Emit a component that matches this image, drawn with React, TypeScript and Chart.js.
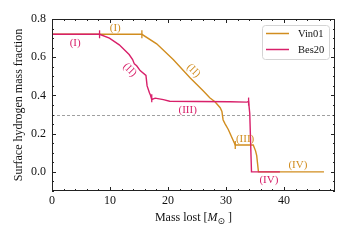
import React, { useEffect, useRef } from "react";
import { Chart, registerables } from "chart.js";
Chart.register(...registerables);

// Vin01 track (mass lost [Msun], surface H mass fraction)
const vinX = [0, 15.5, 18.05, 20.9, 23.8, 26.1, 27.2, 28.1, 29.0, 29.3, 29.5, 29.8, 30.4, 31.6, 34.7, 35.1, 35.3, 35.6, 46.9];
const vinY = [0.72, 0.72, 0.67, 0.588, 0.493, 0.423, 0.388, 0.367, 0.336, 0.316, 0.273, 0.254, 0.222, 0.141, 0.141, 0.11, 0.085, 0.0, 0.0];
// Bes20 track
const besX = [0, 8.2, 9.9, 11.6, 13.3, 13.9, 14.2, 14.6, 15.2, 16.2, 16.4, 16.8, 17.0, 17.2, 17.8, 19.2, 20.3, 25.0, 30.7, 33.6, 33.9, 34.1, 34.4, 39.3];
const besY = [0.72, 0.72, 0.70, 0.665, 0.614, 0.588, 0.565, 0.555, 0.53, 0.505, 0.45, 0.414, 0.40, 0.379, 0.386, 0.378, 0.37, 0.368, 0.367, 0.365, 0.368, 0.306, 0.0, 0.0];

// phase boundary markers
const vinMarkX = [15.5, 31.6];
const vinMarkY = [0.72, 0.141];
const besMarkX = [8.2, 17.2, 33.9];
const besMarkY = [0.72, 0.385, 0.368];

// phase labels
const phaseTexts = ["(I)", "(II)", "(III)", "(IV)"];
const vinPhaseX = [10.9, 24.4, 33.3, 42.4];
const vinPhaseY = [0.754, 0.53, 0.174, 0.038];
const besPhaseX = [4.0, 13.4, 23.4, 37.4];
const besPhaseY = [0.675, 0.534, 0.325, -0.045];
const phaseRot = [0, 45, 0, 0];

const xTicks = [0, 10, 20, 30, 40];
const yTicks = [0, 0.2, 0.4, 0.6, 0.8];
const xMinorStep = 2;
const yMinorStep = 0.05;
const refLineY = 0.3;

const seriesNames = ["Vin01", "Bes20"];
const VIN = "#d18d1f";
const BES = "#d8206a";
const FONT = "'Liberation Serif', 'DejaVu Serif', serif";

const pts = (xs: number[], ys: number[]) => xs.map((x, i) => ({ x, y: ys[i] }));

const deco = {
  id: "deco",
  beforeDatasetsDraw(chart: any) {
    const { ctx, chartArea: a, scales } = chart;
    const py = Math.round(scales.y.getPixelForValue(refLineY)) + 0.5;
    ctx.save();
    ctx.strokeStyle = "#a0a0a0";
    ctx.lineWidth = 1;
    ctx.setLineDash([3, 2]);
    ctx.beginPath();
    ctx.moveTo(a.left, py);
    ctx.lineTo(a.right, py);
    ctx.stroke();
    ctx.restore();
  },
  afterDatasetsDraw(chart: any) {
    const { ctx, chartArea: a, scales } = chart;
    const x = scales.x, y = scales.y;
    ctx.save();
    // frame
    ctx.strokeStyle = "#222";
    ctx.lineWidth = 1;
    ctx.strokeRect(a.left + 0.5, a.top + 0.5, a.right - a.left - 1, a.bottom - a.top - 1);
    // ticks
    ctx.beginPath();
    const xTick = (v: number, len: number) => {
      const p = Math.round(x.getPixelForValue(v)) + 0.5;
      ctx.moveTo(p, a.bottom); ctx.lineTo(p, a.bottom - len);
      ctx.moveTo(p, a.top); ctx.lineTo(p, a.top + len);
    };
    const yTick = (v: number, len: number) => {
      const p = Math.round(y.getPixelForValue(v)) + 0.5;
      ctx.moveTo(a.left, p); ctx.lineTo(a.left + len, p);
      ctx.moveTo(a.right, p); ctx.lineTo(a.right - len, p);
    };
    for (let i = 0; i * xMinorStep <= x.max; i++) {
      const v = i * xMinorStep;
      xTick(v, xTicks.includes(v) ? 4 : 2);
    }
    for (let i = Math.ceil(y.min / yMinorStep); i * yMinorStep <= y.max + 1e-9; i++) {
      const v = Math.round(i * yMinorStep * 100) / 100;
      yTick(v, yTicks.some((t) => Math.abs(t - v) < 1e-9) ? 4 : 2);
    }
    ctx.stroke();

    // phase labels
    ctx.font = `11px ${FONT}`;
    ctx.textAlign = "center";
    ctx.textBaseline = "middle";
    const drawLabels = (xs: number[], ys: number[], color: string) => {
      ctx.fillStyle = color;
      xs.forEach((vx, i) => {
        ctx.save();
        ctx.translate(x.getPixelForValue(vx), y.getPixelForValue(ys[i]));
        ctx.rotate((phaseRot[i] * Math.PI) / 180);
        ctx.fillText(phaseTexts[i], 0, 0);
        ctx.restore();
      });
    };
    drawLabels(vinPhaseX, vinPhaseY, VIN);
    drawLabels(besPhaseX, besPhaseY, BES);

    // legend
    const lx = a.right - 73, ly = a.top + 6, lw = 67, lh = 34;
    ctx.fillStyle = "rgba(255,255,255,0.85)";
    ctx.strokeStyle = "#d4d4d4";
    ctx.beginPath();
    ctx.roundRect(lx + 0.5, ly + 0.5, lw, lh, 3);
    ctx.fill();
    ctx.stroke();
    const colors = [VIN, BES];
    ctx.font = `10.5px ${FONT}`;
    ctx.textAlign = "left";
    seriesNames.forEach((n, i) => {
      const yy = ly + 8.5 + i * 16;
      ctx.strokeStyle = colors[i];
      ctx.lineWidth = 1.5;
      ctx.beginPath();
      ctx.moveTo(lx + 4, yy);
      ctx.lineTo(lx + 27, yy);
      ctx.stroke();
      ctx.fillStyle = "#111";
      ctx.fillText(n, lx + 36, yy + 0.5);
    });

    // axis titles
    ctx.fillStyle = "#111";
    ctx.textBaseline = "alphabetic";
    const parts: [string, string, number][] = [
      ["Mass lost [", `12px ${FONT}`, 0],
      ["M", `italic 12px ${FONT}`, 0],
      ["\u2299", `9px 'DejaVu Sans', ${FONT}`, 2.5],
      [" ]", `12px ${FONT}`, 0],
    ];
    let total = 0;
    parts.forEach(([t, f]) => { ctx.font = f; total += ctx.measureText(t).width; });
    let cx = (a.left + a.right) / 2 - total / 2;
    const by = 221;
    parts.forEach(([t, f, dy]) => {
      ctx.font = f;
      ctx.fillText(t, cx, by + dy);
      cx += ctx.measureText(t).width;
    });
    ctx.save();
    ctx.translate(19, (a.top + a.bottom) / 2);
    ctx.rotate(-Math.PI / 2);
    ctx.font = `12px ${FONT}`;
    ctx.textAlign = "center";
    ctx.textBaseline = "middle";
    ctx.fillText("Surface hydrogen mass fraction", 0, 0);
    ctx.restore();
    ctx.restore();
  },
};

export default function App() {
  const ref = useRef<HTMLCanvasElement>(null);
  useEffect(() => {
    document.body.style.margin = "0";
    const markerDs = (xs: number[], ys: number[], color: string) => ({
      data: pts(xs, ys),
      showLine: false,
      pointStyle: "line",
      rotation: 90,
      pointRadius: 4,
      pointBorderWidth: 1.3,
      borderColor: color,
      pointBorderColor: color,
      order: 0,
    });
    const chart = new Chart(ref.current!, {
      type: "scatter",
      data: {
        datasets: [
          {
            label: seriesNames[0],
            data: pts(vinX, vinY),
            showLine: true,
            borderColor: VIN,
            borderWidth: 1.4,
            pointRadius: 0,
            order: 2,
          } as any,
          {
            label: seriesNames[1],
            data: pts(besX, besY),
            showLine: true,
            borderColor: BES,
            borderWidth: 1.4,
            pointRadius: 0,
            order: 1,
          } as any,
          markerDs(vinMarkX, vinMarkY, VIN) as any,
          markerDs(besMarkX, besMarkY, BES) as any,
        ],
      },
      options: {
        animation: false,
        responsive: false,
        devicePixelRatio: 1,
        layout: { padding: { top: 19, right: 15, left: 0, bottom: 0 } },
        plugins: { legend: { display: false }, tooltip: { enabled: false } },
        scales: {
          x: {
            type: "linear",
            min: 0,
            max: 48.8,
            grid: { display: false, drawTicks: false },
            border: { display: false },
            afterBuildTicks: (s: any) => { s.ticks = xTicks.map((v) => ({ value: v })); },
            afterFit: (s: any) => { s.height = 49; },
            ticks: {
              padding: 3,
              maxRotation: 0,
              color: "#111",
              font: { family: FONT, size: 12 },
              callback: (v: any) => String(v),
            },
          },
          y: {
            type: "linear",
            min: -0.1,
            max: 0.8,
            grid: { display: false, drawTicks: false },
            border: { display: false },
            afterBuildTicks: (s: any) => { s.ticks = yTicks.map((v) => ({ value: v })); },
            afterFit: (s: any) => { s.width = 52; },
            ticks: {
              padding: 6,
              color: "#111",
              font: { family: FONT, size: 12 },
              callback: (v: any) => Number(v).toFixed(1),
            },
          },
        },
      },
      plugins: [deco],
    });
    return () => chart.destroy();
  }, []);
  return (
    <div style={{ width: 350, height: 240 }}>
      <canvas ref={ref} width={350} height={240} style={{ width: 350, height: 240, display: "block" }} />
    </div>
  );
}
